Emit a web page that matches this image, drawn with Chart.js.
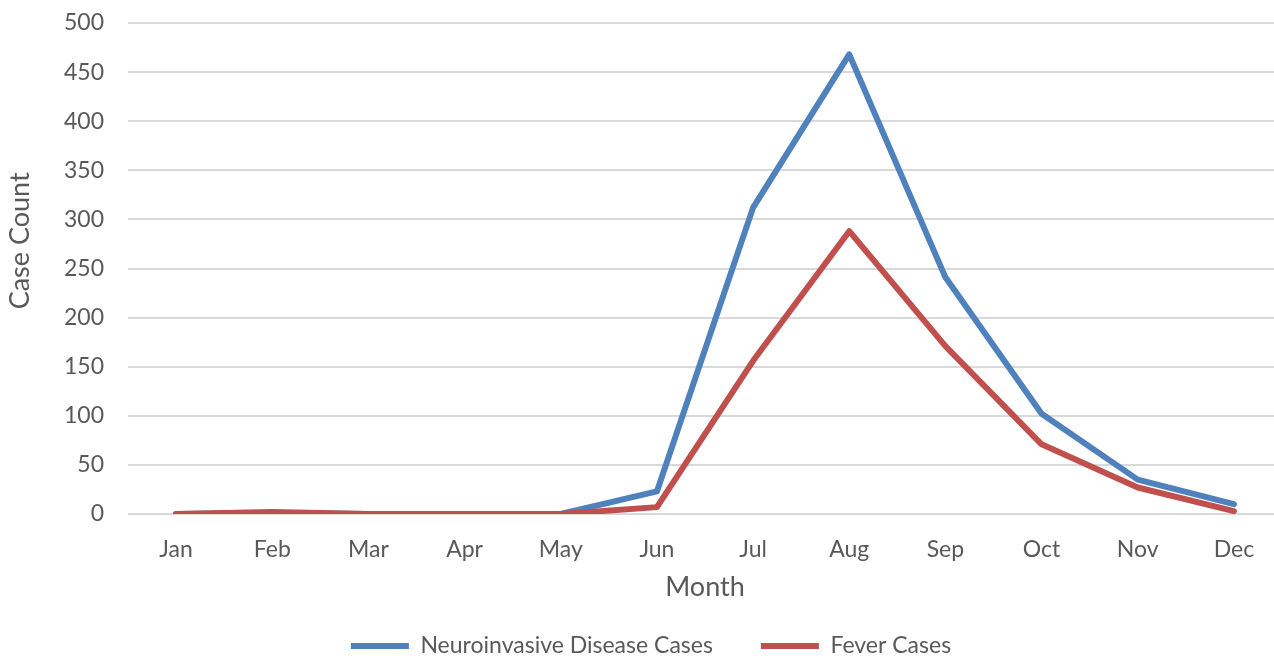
<!DOCTYPE html>
<html>
<head>
<meta charset="utf-8">
<script src="https://cdn.jsdelivr.net/npm/chart.js@4/dist/chart.umd.min.js"></script>
<style>
  html, body { margin: 0; padding: 0; background: #ffffff; overflow: hidden; }
  #wrap { width: 1274px; height: 658px; overflow: hidden; position: relative; }
  #box { width: 1300px; height: 658px; position: absolute; left: 0; top: 0; }
</style>
</head>
<body>
<div id="wrap"><div id="box"><canvas id="chart"></canvas></div></div>
<script>
// Monthly case counts
const months = ['Jan', 'Feb', 'Mar', 'Apr', 'May', 'Jun', 'Jul', 'Aug', 'Sep', 'Oct', 'Nov', 'Dec'];
const neuroinvasiveCases = [0, 1, 0, 0, 0, 23, 312, 468, 241, 102, 35, 10];
const feverCases = [0, 2, 0, 0, 0, 7, 156, 288, 171, 71, 27, 3];
const yTicks = [0, 50, 100, 150, 200, 250, 300, 350, 400, 450, 500];

const textColor = '#595959';
const family = 'Lato, "Open Sans", sans-serif';

new Chart(document.getElementById('chart'), {
  type: 'line',
  data: {
    labels: months,
    datasets: [
      {
        label: 'Neuroinvasive Disease Cases',
        data: neuroinvasiveCases,
        borderColor: '#4F81BD',
        backgroundColor: '#4F81BD',
        borderWidth: 6,
        borderCapStyle: 'round',
        borderJoinStyle: 'round',
        pointRadius: 0,
        tension: 0,
        order: 1
      },
      {
        label: 'Fever Cases',
        data: feverCases,
        borderColor: '#C0504D',
        backgroundColor: '#C0504D',
        borderWidth: 6,
        borderCapStyle: 'round',
        borderJoinStyle: 'round',
        pointRadius: 0,
        tension: 0,
        order: 0
      }
    ]
  },
  options: {
    responsive: true,
    maintainAspectRatio: false,
    animation: false,
    devicePixelRatio: 1,
    layout: { padding: { left: 20, right: 18, top: 23, bottom: -9.5 } },
    plugins: {
      tooltip: { enabled: false },
      legend: {
        position: 'bottom',
        labels: {
          usePointStyle: true,
          pointStyle: 'line',
          pointStyleWidth: 58,
          padding: 48,
          color: textColor,
          font: { family: family, size: 23 },
          sort: (a, b) => a.datasetIndex - b.datasetIndex
        }
      }
    },
    scales: {
      x: {
        offset: true,
        grid: { display: false, drawTicks: false },
        border: { display: false },
        ticks: { color: textColor, padding: 22, font: { family: family, size: 23 } },
        title: {
          display: true,
          text: 'Month',
          color: textColor,
          font: { family: family, size: 27 },
          padding: { top: 0, bottom: -16.7 }
        },
        afterFit: (s) => { s.height = 72.5; s.paddingLeft = 0; s.paddingRight = 0; }
      },
      y: {
        min: 0,
        max: 500,
        afterBuildTicks: (s) => { s.ticks = yTicks.map(v => ({ value: v })); },
        grid: { color: '#D9D9D9', lineWidth: 2, drawTicks: false },
        border: { display: false },
        ticks: { color: textColor, padding: 24, font: { family: family, size: 23 } },
        title: {
          display: true,
          text: '        Case Count',
          color: textColor,
          font: { family: family, size: 27 },
          padding: { top: -16, bottom: 0 }
        },
        afterFit: (s) => { s.width = 108; s.paddingTop = 0; s.paddingBottom = 0; }
      }
    }
  }
});
</script>
</body>
</html>
